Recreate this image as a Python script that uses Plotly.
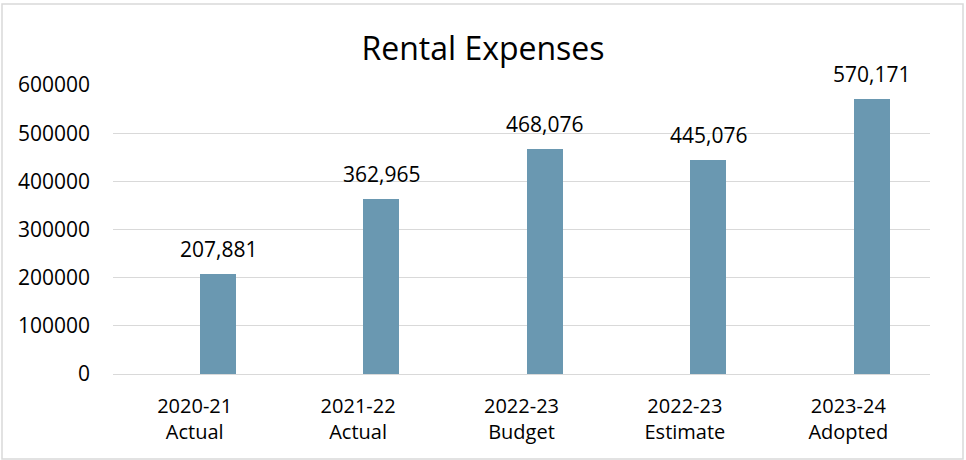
import plotly.graph_objects as go

categories = ['2020-21<br>Actual', '2021-22<br>Actual', '2022-23<br>Budget',
              '2022-23<br>Estimate', '2023-24<br>Adopted']
rental_expenses = [207881, 362965, 468076, 445076, 570171]
y_ticks = [0, 100000, 200000, 300000, 400000, 500000, 600000]

W, H = 966, 460
L, R, T, B = 113, 36, 85, 86
pw, ph = W - L - R, H - T - B
bar_w, bar_off = 0.22, 0.033

fig = go.Figure()
fig.add_trace(go.Bar(
    x=categories, y=rental_expenses,
    marker_color='#6a98b1', marker_line_width=0,
    width=bar_w, offset=bar_off,
))

# value labels above the bars
for i, v in enumerate(rental_expenses):
    fig.add_annotation(x=i + bar_off + bar_w / 2, y=v, text='{:,}'.format(v),
                       showarrow=False, yanchor='middle', yshift=25,
                       font=dict(size=21, color='#000000'))

fig.update_layout(
    width=W, height=H,
    margin=dict(l=L, r=R, t=T, b=B, autoexpand=False),
    paper_bgcolor='white', plot_bgcolor='white',
    font=dict(family='Open Sans', color='#000000', size=20),
    title=dict(text='Rental Expenses', x=0.5, xanchor='center', y=0.895, yanchor='middle',
               font=dict(size=32, color='#000000')),
    showlegend=False,
    bargap=0,
)
fig.update_yaxes(range=[0, 600000], tickvals=y_ticks, tickformat='d',
                 tickfont=dict(size=21),
                 showgrid=True, gridcolor='#d9d9d9', gridwidth=1,
                 zeroline=True, zerolinecolor='#d9d9d9', zerolinewidth=1,
                 showline=False, ticks='', ticklabelstandoff=22, automargin=False)
fig.update_xaxes(showgrid=False, showline=False, ticks='', ticklabelstandoff=18, automargin=False)

# outer chart border
fig.add_shape(type='rect', xref='paper', yref='paper',
              x0=(2 - L) / pw, x1=(963 - L) / pw,
              y0=(H - 459 - B) / ph, y1=(H - 4 - B) / ph,
              line=dict(color='#d9d9d9', width=1.5), fillcolor='rgba(0,0,0,0)')

fig.write_html("out.html", config={'displayModeBar': False},
               post_script="document.body.style.margin='0';")
